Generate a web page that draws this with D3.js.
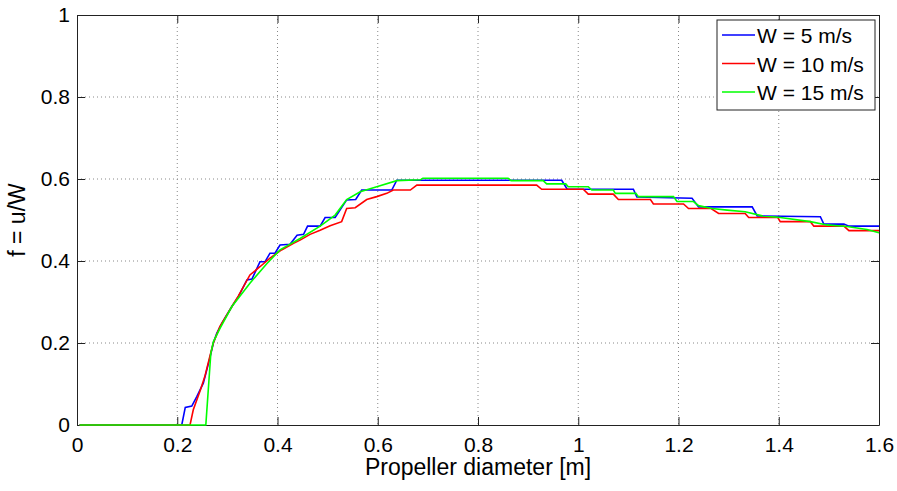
<!DOCTYPE html>
<html>
<head>
<meta charset="utf-8">
<script src="https://cdn.jsdelivr.net/npm/d3@7"></script>
<style>
  body { margin: 0; background: white; }
  text { font-family: "Liberation Sans", Arial, Helvetica, sans-serif; fill: #000; }
</style>
</head>
<body>
<div id="chart"></div>
<script>
// values: [diameter, f]
var w5 = [[0.005,0],[0.209,0],[0.216,0.043],[0.229,0.046],[0.239,0.069],[0.252,0.102],[0.265,0.163],[0.272,0.2],[0.279,0.224],[0.29,0.25],[0.309,0.289],[0.322,0.313],[0.339,0.354],[0.349,0.356],[0.365,0.398],[0.375,0.398],[0.385,0.419],[0.395,0.419],[0.405,0.439],[0.425,0.441],[0.439,0.463],[0.452,0.465],[0.46,0.485],[0.485,0.485],[0.495,0.506],[0.515,0.506],[0.538,0.549],[0.556,0.55],[0.568,0.573],[0.628,0.573],[0.638,0.597],[0.967,0.597],[0.978,0.575],[1.11,0.575],[1.117,0.556],[1.227,0.553],[1.24,0.532],[1.347,0.532],[1.357,0.51],[1.483,0.508],[1.49,0.49],[1.53,0.49],[1.54,0.485],[1.6,0.485]]

var w10 = [[0.005,0],[0.2255,0],[0.232,0.037],[0.246,0.085],[0.255,0.118],[0.265,0.167],[0.272,0.2],[0.285,0.24],[0.309,0.289],[0.322,0.315],[0.345,0.366],[0.365,0.386],[0.385,0.407],[0.408,0.427],[0.432,0.443],[0.445,0.451],[0.465,0.465],[0.485,0.475],[0.505,0.486],[0.528,0.496],[0.538,0.528],[0.555,0.53],[0.578,0.55],[0.598,0.557],[0.618,0.565],[0.631,0.573],[0.665,0.573],[0.678,0.585],[0.917,0.585],[0.927,0.575],[1.01,0.575],[1.02,0.563],[1.07,0.563],[1.08,0.55],[1.144,0.55],[1.15,0.539],[1.21,0.539],[1.22,0.528],[1.265,0.528],[1.28,0.516],[1.333,0.516],[1.34,0.506],[1.398,0.506],[1.403,0.496],[1.463,0.496],[1.47,0.485],[1.53,0.485],[1.54,0.474],[1.6,0.474]]

var w15 = [[0.005,0],[0.257,0],[0.267,0.175],[0.272,0.203],[0.285,0.235],[0.309,0.289],[0.345,0.346],[0.379,0.394],[0.405,0.427],[0.445,0.455],[0.485,0.485],[0.515,0.512],[0.538,0.55],[0.565,0.569],[0.598,0.581],[0.638,0.596],[0.685,0.598],[0.69,0.602],[0.86,0.602],[0.866,0.596],[0.93,0.596],[0.937,0.588],[0.975,0.588],[0.98,0.581],[1.02,0.581],[1.027,0.573],[1.07,0.573],[1.074,0.565],[1.115,0.565],[1.12,0.557],[1.19,0.557],[1.197,0.545],[1.23,0.545],[1.24,0.535],[1.267,0.528],[1.297,0.524],[1.333,0.52],[1.367,0.51],[1.403,0.506],[1.463,0.496],[1.496,0.488],[1.536,0.484],[1.576,0.477],[1.6,0.469]]

var series_names = ["W = 5 m/s", "W = 10 m/s", "W = 15 m/s"]
var series_colors = ["#0000ff", "#ff0000", "#00ff00"]
var x_ticks = [0, 0.2, 0.4, 0.6, 0.8, 1, 1.2, 1.4, 1.6]
var y_ticks = [0, 0.2, 0.4, 0.6, 0.8, 1]

var MARGIN = {TOP: 15, RIGHT: 18, BOTTOM: 66, LEFT: 77},
    WIDTH = 897 - MARGIN.LEFT - MARGIN.RIGHT,
    HEIGHT = 491 - MARGIN.TOP - MARGIN.BOTTOM;

const svg = d3.select("#chart").append("svg")
  .attr("width", 897)
  .attr("height", 491)
  .append("g")
  .attr("transform", `translate(${MARGIN.LEFT}, ${MARGIN.TOP})`)

var x = d3.scaleLinear().domain([0, 1.6]).range([0, WIDTH])
var y = d3.scaleLinear().domain([0, 1]).range([HEIGHT, 0])

// dotted grid
svg.append("g")
  .selectAll("line")
  .data(x_ticks.slice(1, -1))
  .join("line")
  .attr("x1", d => x(d)).attr("x2", d => x(d))
  .attr("y1", 0).attr("y2", HEIGHT)
  .attr("stroke", "#888")
  .attr("stroke-dasharray", "1,3")

svg.append("g")
  .selectAll("line")
  .data(y_ticks.slice(1, -1))
  .join("line")
  .attr("x1", 0).attr("x2", WIDTH)
  .attr("y1", d => y(d)).attr("y2", d => y(d))
  .attr("stroke", "#888")
  .attr("stroke-dasharray", "1,3")

// axes with inward ticks, matlab style
var TICK = 8
svg.append("g")
  .attr("transform", `translate(0, ${HEIGHT})`)
  .call(d3.axisBottom(x).tickValues(x_ticks).tickFormat(d3.format("")).tickSizeInner(-TICK).tickSizeOuter(0).tickPadding(12))
svg.append("g")
  .call(d3.axisTop(x).tickValues(x_ticks).tickFormat("").tickSizeInner(-TICK).tickSizeOuter(0))
svg.append("g")
  .call(d3.axisLeft(y).tickValues(y_ticks).tickFormat(d3.format("")).tickSizeInner(-TICK).tickSizeOuter(0).tickPadding(7))
svg.append("g")
  .attr("transform", `translate(${WIDTH}, 0)`)
  .call(d3.axisRight(y).tickValues(y_ticks).tickFormat("").tickSizeInner(-TICK).tickSizeOuter(0))

svg.selectAll(".tick text").style("font-size", "21px").style("font-family", "'Liberation Sans', Arial, sans-serif")
svg.selectAll(".domain").attr("stroke", "#222")
svg.selectAll(".tick line").attr("stroke", "#222")

// the curves
var line = d3.line().x(d => x(d[0])).y(d => y(d[1]))
var all_series = [w5, w10, w15]
all_series.forEach(function(s, i) {
  svg.append("path")
    .datum(s)
    .attr("d", line)
    .attr("fill", "none")
    .attr("stroke", series_colors[i])
    .attr("stroke-width", 1.6)
})

// axis labels
svg.append("text")
  .attr("x", WIDTH / 2)
  .attr("y", HEIGHT + 50)
  .attr("text-anchor", "middle")
  .style("font-size", "23px")
  .text("Propeller diameter [m]")

svg.append("text")
  .attr("transform", `translate(${-52}, ${HEIGHT / 2}) rotate(-90)`)
  .attr("text-anchor", "middle")
  .style("font-size", "23px")
  .text("f = u/W")

// legend
var legend = svg.append("g").attr("transform", `translate(${WIDTH - 162}, 5)`)
legend.append("rect")
  .attr("width", 158).attr("height", 90)
  .attr("fill", "white").attr("stroke", "#222")
series_names.forEach(function(name, i) {
  var ly = 15 + i * 28.5
  legend.append("line")
    .attr("x1", 5).attr("x2", 38)
    .attr("y1", ly).attr("y2", ly)
    .attr("stroke", series_colors[i])
    .attr("stroke-width", 1.6)
  legend.append("text")
    .attr("x", 40).attr("y", ly + 8)
    .style("font-size", "21px")
    .text(name)
})
</script>
</body>
</html>
